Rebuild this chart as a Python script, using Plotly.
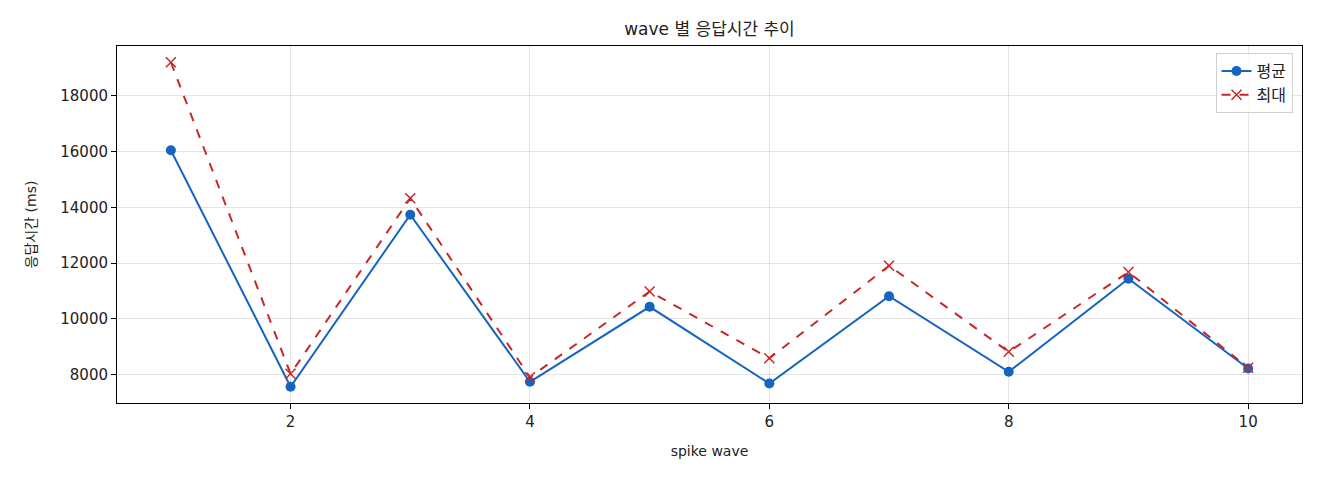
import plotly.graph_objects as go

# wave 번호와 응답시간 (ms)
waves = [1, 2, 3, 4, 5, 6, 7, 8, 9, 10]
avg_ms = [16047, 7559, 13735, 7738, 10430, 7677, 10810, 8097, 11437, 8215]
max_ms = [19208, 8025, 14323, 7903, 10978, 8584, 11903, 8814, 11677, 8240]

FONT = "DejaVu Sans, Noto Sans CJK KR"

fig = go.Figure()
fig.add_trace(go.Scatter(
    x=waves, y=avg_ms, name="평균", mode="lines+markers",
    line=dict(color="#1565C0", width=2),
    marker=dict(symbol="circle", size=10, color="#1565C0"),
))
fig.add_trace(go.Scatter(
    x=waves, y=max_ms, name="최대", mode="lines+markers",
    line=dict(color="#C62828", width=2, dash="dash"),
    marker=dict(symbol="x-thin", size=10, line=dict(color="#C62828", width=1.5)),
))

axis_common = dict(
    showline=True, linecolor="black", linewidth=1, mirror=True,
    ticks="outside", ticklen=5, tickcolor="black",
    showgrid=True, gridcolor="rgba(0,0,0,0.1)", gridwidth=1,
    zeroline=False, tickfont=dict(size=15, color="#222"),
)

fig.update_layout(
    width=1320, height=480,
    margin=dict(l=109, r=26, t=38, b=85),
    paper_bgcolor="white", plot_bgcolor="white",
    font=dict(family=FONT, color="#222", size=14),
    title=dict(text="wave 별 응답시간 추이", x=0.5, xanchor="center", xref="paper",
               y=0.956, yanchor="middle", font=dict(size=17)),
    legend=dict(x=0.992, y=0.98, xanchor="right", yanchor="top",
                bgcolor="rgba(255,255,255,0.8)", bordercolor="#d0d0d0",
                borderwidth=1, font=dict(size=16)),
)
fig.update_xaxes(axis_common, range=[0.55, 10.45], tickvals=[2, 4, 6, 8, 10],
                 title=dict(text="spike wave", font=dict(size=14), standoff=16))
fig.update_yaxes(axis_common, range=[6977, 19790],
                 tickvals=[8000, 10000, 12000, 14000, 16000, 18000],
                 tickformat="d",
                 title=dict(text="응답시간 (ms)", font=dict(size=14), standoff=20))

fig.write_html("out.html")
